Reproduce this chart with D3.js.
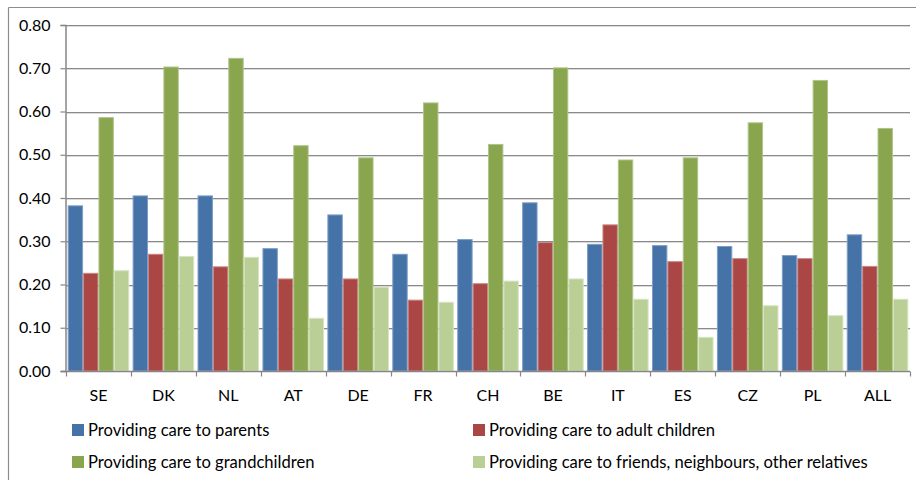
<!DOCTYPE html>
<html>
<head>
<meta charset="utf-8">
<script src="https://cdn.jsdelivr.net/npm/d3@7"></script>
<style>
  html, body { margin: 0; padding: 0; background: #fff; }
  svg { display: block; }
  text { font-family: Lato, "Open Sans", "Liberation Sans", sans-serif; fill: #000; }
</style>
</head>
<body>
<svg id="chart" width="916" height="480"></svg>
<script>
// Country codes along the x axis
const countries = ["SE", "DK", "NL", "AT", "DE", "FR", "CH", "BE", "IT", "ES", "CZ", "PL", "ALL"];

// Share of respondents providing each kind of care
const careParents       = [0.383, 0.406, 0.406, 0.284, 0.362, 0.271, 0.305, 0.390, 0.294, 0.291, 0.289, 0.268, 0.316];
const careAdultChildren = [0.227, 0.271, 0.242, 0.214, 0.214, 0.165, 0.203, 0.298, 0.339, 0.254, 0.261, 0.261, 0.243];
const careGrandchildren = [0.587, 0.704, 0.724, 0.522, 0.494, 0.621, 0.525, 0.702, 0.489, 0.494, 0.575, 0.673, 0.562];
const careOthers        = [0.233, 0.266, 0.264, 0.123, 0.195, 0.160, 0.209, 0.214, 0.167, 0.079, 0.152, 0.129, 0.167];

const seriesNames = [
  "Providing care to parents",
  "Providing care to adult children",
  "Providing care to grandchildren",
  "Providing care to friends, neighbours, other relatives"
];
const seriesColors = ["#4572a7", "#aa4643", "#89a54e", "#b9cf96"];
const seriesEdges  = ["#7d9dc6", "#c88785", "#aec48a", "#d7e3c2"];

const yTicks = [0, 0.1, 0.2, 0.3, 0.4, 0.5, 0.6, 0.7, 0.8];

const seriesValues = [careParents, careAdultChildren, careGrandchildren, careOthers];

const svg = d3.select("#chart");

const plot = { left: 66, right: 910, top: 25, bottom: 371 };

const x0 = d3.scaleBand()
  .domain(countries)
  .range([plot.left, plot.right])
  .paddingInner(0)
  .paddingOuter(0);

const x1 = d3.scaleBand()
  .domain(d3.range(seriesNames.length))
  .range([0, x0.bandwidth()])
  .paddingInner(0)
  .paddingOuter(0.11);

const y = d3.scaleLinear()
  .domain([0, 0.8])
  .range([plot.bottom, plot.top]);

// Chart frame
svg.append("line")
  .attr("x1", 8.5).attr("x2", 916).attr("y1", 7.5).attr("y2", 7.5)
  .attr("stroke", "#8c8c8c").attr("stroke-width", 1.2);
svg.append("line")
  .attr("x1", 8.5).attr("x2", 8.5).attr("y1", 7.5).attr("y2", 480)
  .attr("stroke", "#8c8c8c").attr("stroke-width", 1.2);

// Horizontal gridlines
const grid = svg.append("g");
grid.selectAll("line.major")
  .data(yTicks.filter(d => d > 0))
  .join("line")
  .attr("class", "major")
  .attr("x1", plot.left).attr("x2", plot.right)
  .attr("y1", d => Math.round(y(d)) + 0.5)
  .attr("y2", d => Math.round(y(d)) + 0.5)
  .attr("stroke", "#8a8a8a");
grid.selectAll("line.shade")
  .data(yTicks.filter(d => d > 0))
  .join("line")
  .attr("class", "shade")
  .attr("x1", plot.left).attr("x2", plot.right)
  .attr("y1", d => Math.round(y(d)) + 1.5)
  .attr("y2", d => Math.round(y(d)) + 1.5)
  .attr("stroke", "#dadada");

// Bars
const groups = svg.append("g")
  .selectAll("g")
  .data(countries)
  .join("g")
  .attr("transform", c => `translate(${x0(c)},0)`);

groups.selectAll("rect")
  .data((c, ci) => seriesValues.map((vals, si) => ({ si, v: vals[ci] })))
  .join("rect")
  .attr("x", d => x1(d.si) + 0.5)
  .attr("width", x1.bandwidth() - 1)
  .attr("y", d => y(d.v) + 0.5)
  .attr("height", d => y(0) - y(d.v) - 0.5)
  .attr("fill", d => seriesColors[d.si])
  .attr("stroke", d => seriesEdges[d.si])
  .attr("stroke-width", 1);

// Y axis
const yAxis = svg.append("g")
  .attr("transform", `translate(${plot.left - 0.5},0)`)
  .call(d3.axisLeft(y).tickValues(yTicks).tickFormat(d3.format(".2f")).tickSize(5).tickPadding(10));
yAxis.select(".domain").attr("stroke", "#868686").attr("stroke-width", 1.5);
yAxis.selectAll(".tick line").attr("stroke", "#868686").attr("stroke-width", 1.2);
yAxis.selectAll(".tick text")
  .style("font-family", "Lato, 'Open Sans', sans-serif")
  .style("font-size", "16px")
  .attr("fill", "#000");

// X axis with boundary tick marks between country groups
const xAxisG = svg.append("g")
  .attr("transform", `translate(0,${plot.bottom + 0.5})`);
xAxisG.append("line")
  .attr("x1", plot.left - 5).attr("x2", plot.right)
  .attr("y1", 0).attr("y2", 0)
  .attr("stroke", "#868686").attr("stroke-width", 1.5);
const boundaries = countries.map(c => x0(c)).concat([x0.range()[1]]);
xAxisG.selectAll("line.tick")
  .data(boundaries)
  .join("line")
  .attr("class", "tick")
  .attr("x1", d => Math.round(d) + 0.5).attr("x2", d => Math.round(d) + 0.5)
  .attr("y1", 0).attr("y2", 5)
  .attr("stroke", "#868686").attr("stroke-width", 1.2);
xAxisG.selectAll("text")
  .data(countries)
  .join("text")
  .attr("x", c => x0(c) + x0.bandwidth() / 2)
  .attr("y", 29)
  .attr("text-anchor", "middle")
  .style("font-size", "16px")
  .text(c => c);

// Legend: two columns, two rows
const legendPos = [
  { x: 72, y: 424 },
  { x: 473, y: 424 },
  { x: 72, y: 456 },
  { x: 473, y: 456 }
];
const legend = svg.append("g")
  .selectAll("g")
  .data(seriesNames)
  .join("g")
  .attr("transform", (d, i) => `translate(${legendPos[i].x},${legendPos[i].y})`);
legend.append("rect")
  .attr("width", 12).attr("height", 12)
  .attr("fill", (d, i) => seriesColors[i]);
legend.append("text")
  .attr("x", 16).attr("y", 11.5)
  .style("font-size", "16.6px")
  .text(d => d);
</script>
</body>
</html>
